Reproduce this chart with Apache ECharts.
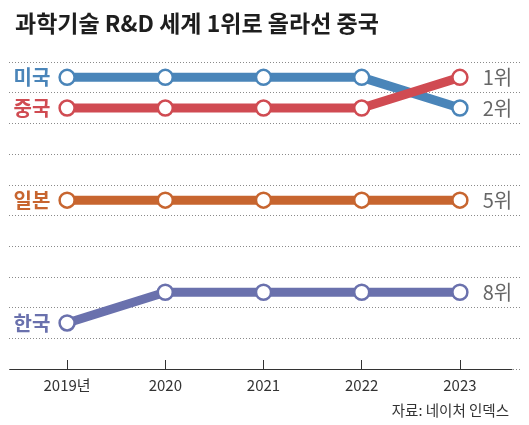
<!DOCTYPE html>
<html>
<head>
<meta charset="utf-8">
<script src="https://cdn.jsdelivr.net/npm/echarts@6/dist/echarts.min.js"></script>
<style>
html,body{margin:0;padding:0;background:#fff;}
#c{width:529px;height:425px;}
</style>
</head>
<body>
<div id="c"></div>
<script>
const years = ['2019년', '2020', '2021', '2022', '2023'];
const countries = ['미국', '중국', '일본', '한국'];
const usRank = [1, 1, 1, 1, 2];
const chinaRank = [2, 2, 2, 2, 1];
const japanRank = [5, 5, 5, 5, 5];
const koreaRank = [9, 8, 8, 8, 8];
const colors = ['#4a85b9', '#d04b52', '#c7652f', '#6a71ad'];
const title = '과학기술 R&D 세계 1위로 올라선 중국';
const source = '자료: 네이처 인덱스';

const FONT = '"Noto Sans CJK KR", "Noto Sans", sans-serif';
const ranks = [usRank, chinaRank, japanRank, koreaRank];

function makeSeries(name, data, color) {
  const items = data.map((v, i) => {
    const it = { value: v };
    if (i === 0) {
      it.label = { show: true, position: 'left', distance: 8, formatter: name,
        color: color, fontSize: 20, fontWeight: 'bold', fontFamily: FONT };
    } else if (i === data.length - 1) {
      it.label = { show: true, position: 'right', distance: 14, formatter: v + '위',
        color: '#666', fontSize: 20, fontWeight: 'normal', fontFamily: FONT };
    }
    return it;
  });
  return {
    type: 'line', name: name, xAxisIndex: 0, yAxisIndex: 0,
    data: items,
    symbol: 'circle', symbolSize: 15,
    lineStyle: { color: color, width: 9 },
    itemStyle: { color: '#fff', borderColor: color, borderWidth: 2.5 },
    label: { show: false },
    emphasis: { disabled: true },
    animation: false
  };
}

const chart = echarts.init(document.getElementById('c'));
chart.setOption({
  backgroundColor: '#fff',
  animation: false,
  title: [
    { text: title, left: 10, top: 7,
      textStyle: { fontSize: 23, fontWeight: 'bold', color: '#1e1e1e', fontFamily: FONT } },
    { text: source, right: 15, top: 398,
      textStyle: { fontSize: 14.5, fontWeight: 'normal', color: '#333', fontFamily: FONT } }
  ],
  grid: [
    { left: 18, right: 20, top: 62, height: 307 },
    { left: 10, right: 17, top: 62, height: 307 },
    { left: 9, right: 9, top: 62, height: 307 }
  ],
  xAxis: [
    { type: 'category', gridIndex: 0, data: years, boundaryGap: true,
      axisLine: { show: false },
      axisTick: { show: true, inside: true, length: 9, alignWithLabel: true,
        lineStyle: { color: '#333', width: 1 } },
      axisLabel: { color: '#333', fontSize: 15, margin: 9, fontFamily: FONT } },
    { type: 'value', gridIndex: 1, min: 0, max: 1,
      axisLine: { show: true, lineStyle: { color: '#333', width: 1 } },
      axisTick: { show: false }, axisLabel: { show: false }, splitLine: { show: false } },
    { type: 'value', gridIndex: 2, min: 0, max: 1, show: false }
  ],
  yAxis: [
    { type: 'value', gridIndex: 0, inverse: true, min: 0.5, max: 10.5, show: false },
    { type: 'value', gridIndex: 1, inverse: true, min: 0.5, max: 10.5, show: false },
    { type: 'value', gridIndex: 2, inverse: true, min: 0.5, max: 10.5, interval: 1,
      axisLine: { show: false }, axisTick: { show: false }, axisLabel: { show: false },
      splitLine: { show: true, lineStyle: { color: '#8a8a8a', width: 1, type: [1, 2] } } }
  ],
  series: countries.map((c, i) => makeSeries(c, ranks[i], colors[i]))
});
</script>
</body>
</html>
